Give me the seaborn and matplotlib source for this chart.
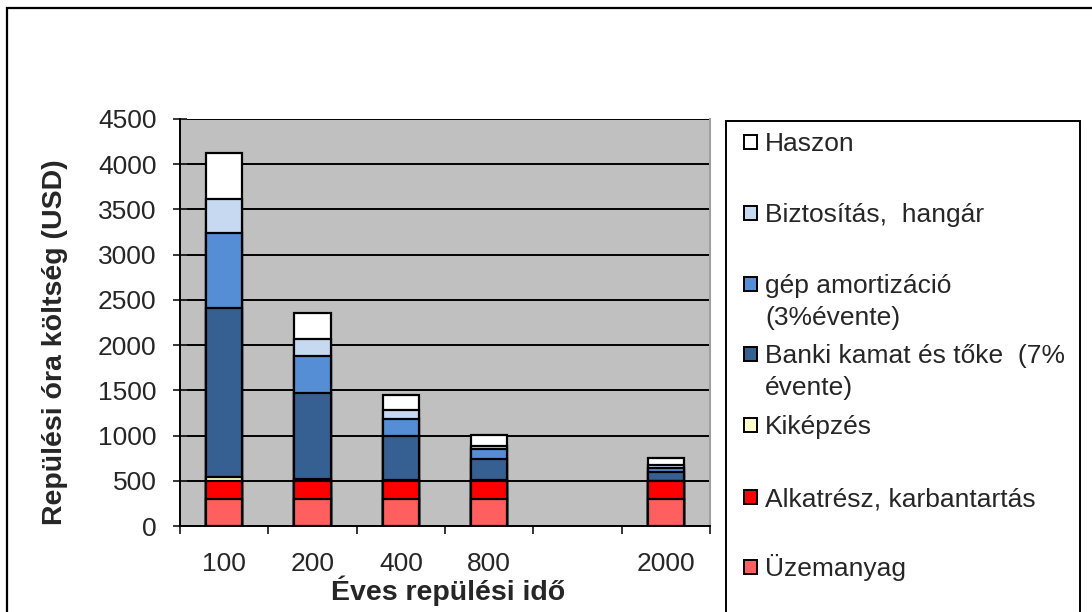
import pandas as pd
import seaborn as sns
import matplotlib.pyplot as plt
from matplotlib.patches import Rectangle

# %% data

hours = ["100", "200", "400", "800", "2000"]
slots = ["100", "200", "400", "800", "", "2000"]   # empty slot between 800 and 2000

uzemanyag = [300, 300, 300, 300, 300]
alkatresz = [200, 200, 200, 200, 200]
kikepzes = [40, 20, 10, 5, 2]
banki = [1870, 955, 480, 235, 100]
amortizacio = [830, 400, 195, 110, 40]
biztositas = [380, 195, 100, 40, 30]
haszon = [500, 280, 165, 115, 75]

series_names = ["Üzemanyag", "Alkatrész, karbantartás", "Kiképzés",
                "Banki kamat és tőke  (7%\névente)", "gép amortizáció\n(3%évente)",
                "Biztosítás,  hangár", "Haszon"]
series_values = [uzemanyag, alkatresz, kikepzes, banki, amortizacio, biztositas, haszon]
series_colors = ["#FF5F5F", "#FF0000", "#FFFFCC", "#366092", "#558ED5", "#C6D9F1", "#FFFFFF"]

# %% cumulative table for the stacked bars

costs = pd.DataFrame({"ido": hours})
running = [0] * len(hours)
for name, vals in zip(series_names, series_values):
    running = [r + v for r, v in zip(running, vals)]
    costs[name] = running

# %% figure

sns.set_style("white")
plt.rcParams['font.family'] = ['Liberation Sans', 'DejaVu Sans']

fig = plt.figure(figsize=(10.92, 6.12), dpi=100)
ax = fig.add_axes([180 / 1092, 1 - 526 / 612, 530 / 1092, 407 / 612])

# draw from the top layer downwards so shorter bars cover the taller ones
for name, col in reversed(list(zip(series_names, series_colors))):
    sns.barplot(data=costs, x="ido", y=name, order=slots, color=col,
                saturation=1, errorbar=None, width=0.41,
                edgecolor="black", linewidth=1.6, ax=ax)

ax.set_facecolor("#C0C0C0")
ax.set_ylim(0, 4500)
ax.set_yticks(range(0, 4501, 500))
ax.yaxis.grid(True, color="black", linewidth=1.4)
ax.set_axisbelow(True)
ax.tick_params(axis="y", direction="inout", length=10, width=1.3,
               labelsize=19, pad=12, left=True)

ax.set_xlim(-0.5, 5.5)
ax.set_xticks([i - 0.5 for i in range(7)])
ax.set_xticklabels([""] * 7)
ax.set_xticks(range(6), minor=True)
ax.set_xticklabels(slots, minor=True)
ax.tick_params(axis="x", which="major", direction="out", length=6, width=1.3, bottom=True)
ax.tick_params(axis="x", which="minor", length=0, labelsize=19, pad=19)

for side in ["left", "bottom"]:
    ax.spines[side].set_color("black")
    ax.spines[side].set_linewidth(1.4)
ax.spines["top"].set_visible(False)
ax.spines["right"].set_color("#A0A0A0")
ax.spines["right"].set_linewidth(1.5)

ax.set_ylabel("Repülési óra költség (USD)", fontsize=20.5, fontweight="bold")
ax.yaxis.set_label_coords(-0.211, 0.451)
ax.set_xlabel("Éves repülési idő", fontsize=20.5, fontweight="bold")
ax.xaxis.set_label_coords(0.506, -0.121)

# %% outer chart frame and legend box (both run off the picture)

W, H = 1092, 612
fig.add_artist(Rectangle((7 / W, -0.1), 1.2, 1.1 - 7.5 / H, transform=fig.transFigure,
                         fill=False, edgecolor="black", linewidth=1.6))
fig.add_artist(Rectangle((726 / W, -0.1), (1080 - 726) / W, 0.1 + 1 - 121 / H,
                         transform=fig.transFigure, fill=False,
                         edgecolor="black", linewidth=1.4))

line1_y = [142, 213, 284, 354, 425, 497, 567]
legend_order = list(reversed(range(len(series_names))))
for ypx, idx in zip(line1_y, legend_order):
    fig.add_artist(Rectangle((744 / W, 1 - (ypx + 7) / H), 13 / W, 14 / H,
                             transform=fig.transFigure, facecolor=series_colors[idx],
                             edgecolor="black", linewidth=1.4))
    for k, line in enumerate(series_names[idx].split("\n")):
        fig.text(765 / W, 1 - (ypx + 9 + 32 * k) / H, line, fontsize=19,
                 va="baseline", ha="left")

fig.savefig("out.png", dpi=100)
